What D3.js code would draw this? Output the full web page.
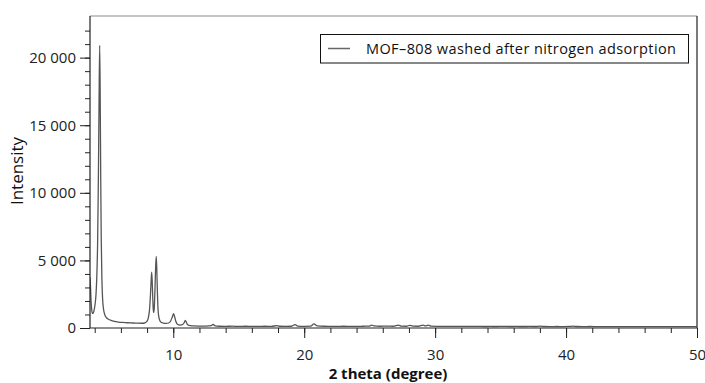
<!DOCTYPE html>
<html>
<head>
<meta charset="utf-8">
<script src="https://cdn.jsdelivr.net/npm/d3@7"></script>
<style>
  body { margin: 0; background: #fff; }
  svg { display: block; }
</style>
</head>
<body>
<svg id="chart" width="705" height="383"></svg>
<script>
// diffractogram (2 theta in degree, intensity in counts)
const twoTheta = [
  3.64, 3.68, 3.72, 3.77, 3.82, 3.88, 3.95, 4.02, 4.10, 4.16, 4.22, 4.28, 4.33, 4.38, 4.42, 4.46,
  4.50, 4.55, 4.60, 4.66, 4.72, 4.80, 4.90, 5.05, 5.25, 5.50, 5.80, 6.10, 6.50, 6.90, 7.30, 7.60,
  7.80, 7.95, 8.08, 8.18, 8.26, 8.31, 8.35, 8.39, 8.43, 8.47, 8.51, 8.55, 8.60, 8.65, 8.70, 8.74,
  8.78, 8.83, 8.90, 8.98, 9.08, 9.25, 9.45, 9.65, 9.80, 9.92, 10.02, 10.10, 10.20, 10.32, 10.50, 10.70,
  10.82, 10.92, 11.00, 11.10, 11.30, 11.60, 12.00, 12.50, 12.90, 13.05, 13.20, 13.50, 14.0, 14.5, 15.0, 15.5,
  16.0, 16.5, 17.0, 17.5, 17.9, 18.1, 18.6, 19.0, 19.3, 19.5, 20.0, 20.5, 20.75, 21.0, 21.5, 22.0,
  22.5, 23.0, 23.5, 24.0, 24.5, 25.0, 25.15, 25.35, 25.8, 26.3, 26.8, 27.2, 27.4, 27.8, 28.07, 28.3,
  28.7, 29.08, 29.25, 29.47, 29.7, 30.2, 30.7, 31.2, 31.7, 32.2, 32.7, 33.2, 33.7, 34.2, 34.7, 35.2,
  35.7, 36.2, 36.7, 37.2, 37.7, 38.0, 38.3, 38.8, 39.3, 39.8, 40.3, 40.5, 40.8, 41.3, 41.8, 42.3,
  42.8, 43.3, 43.8, 44.3, 44.8, 45.3, 45.8, 46.3, 46.8, 47.3, 47.8, 48.3, 48.8, 49.3, 50.0
];
const intensity = [
  3750, 3000, 2000, 1350, 1080, 1100, 1300, 1700, 2500, 3800, 6200, 11000, 16500, 20900, 17000, 11000,
  6500, 3600, 2200, 1500, 1150, 900, 760, 650, 560, 490, 440, 410, 390, 370, 355, 350,
  370, 450, 700, 1300, 2500, 3500, 4140, 3500, 2300, 1400, 1150, 1500, 2800, 4400, 5300, 4400,
  2900, 1500, 800, 540, 420, 360, 340, 370, 520, 800, 1060, 850, 480, 280, 220, 250,
  370, 560, 420, 240, 170, 150, 140, 135, 170, 260, 160, 130, 125, 135, 120, 130,
  125, 120, 130, 125, 170, 130, 120, 130, 250, 140, 125, 135, 300, 150, 130, 125,
  120, 130, 125, 120, 130, 140, 220, 150, 130, 140, 130, 210, 140, 130, 200, 140,
  130, 220, 150, 210, 140, 125, 120, 125, 115, 120, 115, 120, 110, 115, 110, 120,
  110, 115, 110, 115, 110, 140, 110, 105, 110, 105, 115, 140, 110, 105, 110, 105,
  100, 105, 100, 105, 100, 100, 105, 100, 95, 100, 95, 100, 95, 100, 95
];

const seriesName = "MOF\u2013808 washed after nitrogen adsorption";
const xMajorTicks = [10, 20, 30, 40, 50];
const xMinorTicks = d3.range(4, 51, 2);
const yMajorTicks = [0, 5000, 10000, 15000, 20000];
const yMinorTicks = d3.range(0, 23000, 1000);

const margin = { left: 90, right: 8, top: 16, bottom: 55 };
const width = 705, height = 383;
const svg = d3.select("#chart");
const font = "'Open Sans', 'Noto Sans', sans-serif";

//SCALES
const x = d3.scaleLinear().domain([3.64, 50]).range([margin.left, width - margin.right]);
const y = d3.scaleLinear().domain([0, 23080]).range([height - margin.bottom, margin.top]);

const fmtY = v => d3.format(",d")(v).replace(",", " ");

const data = twoTheta.map((t, i) => ({ t: t, v: intensity[i] }));

//FRAME (top + right)
svg.append("line")
    .attr("x1", x.range()[0]).attr("x2", x.range()[1])
    .attr("y1", y.range()[1]).attr("y2", y.range()[1])
    .attr("stroke", "#8c8c8c").attr("stroke-width", 1.2);
svg.append("line")
    .attr("x1", x.range()[1]).attr("x2", x.range()[1])
    .attr("y1", y.range()[1]).attr("y2", y.range()[0])
    .attr("stroke", "#222").attr("stroke-width", 1.2);

//LINE
svg.append("clipPath").attr("id", "plotClip")
  .append("rect")
    .attr("x", x.range()[0]).attr("y", y.range()[1])
    .attr("width", x.range()[1] - x.range()[0])
    .attr("height", y.range()[0] - y.range()[1]);

const line = d3.line()
    .x(d => x(d.t))
    .y(d => y(d.v))
    .curve(d3.curveMonotoneX);

svg.append("path")
    .datum(data)
    .attr("clip-path", "url(#plotClip)")
    .attr("d", line)
    .attr("fill", "none")
    .attr("stroke", "#555")
    .attr("stroke-width", 1.3);

//X AXIS
const xAxis = svg.append("g")
    .attr("transform", "translate(0," + y.range()[0] + ")");
xAxis.call(d3.axisBottom(x).tickValues(xMinorTicks).tickSize(5).tickFormat(""));
xAxis.append("g").call(d3.axisBottom(x).tickValues(xMajorTicks).tickSize(10).tickPadding(11).tickFormat(d3.format("d")));
xAxis.selectAll(".domain").remove();
xAxis.append("line")
    .attr("x1", x.range()[0]).attr("x2", x.range()[1])
    .attr("stroke", "#222").attr("stroke-width", 1.2);
xAxis.selectAll("text")
    .attr("fill", "#222")
    .attr("font-family", font)
    .attr("font-size", 15);
xAxis.selectAll(".tick line").attr("stroke", "#222");

//Y AXIS
const yAxis = svg.append("g")
    .attr("transform", "translate(" + x.range()[0] + ",0)");
yAxis.call(d3.axisLeft(y).tickValues(yMinorTicks).tickSize(5).tickFormat(""));
yAxis.append("g").call(d3.axisLeft(y).tickValues(yMajorTicks).tickSize(10).tickPadding(4).tickFormat(fmtY));
yAxis.selectAll(".domain").remove();
yAxis.append("line")
    .attr("y1", y.range()[0]).attr("y2", y.range()[1])
    .attr("stroke", "#222").attr("stroke-width", 1.2);
yAxis.selectAll("text")
    .attr("fill", "#222")
    .attr("font-family", font)
    .attr("font-size", 15);
yAxis.selectAll(".tick line").attr("stroke", "#222");

//TITLES
svg.append("text")
    .attr("x", 388).attr("y", 379)
    .attr("text-anchor", "middle")
    .attr("font-family", font)
    .attr("font-size", 15)
    .attr("font-weight", "bold")
    .attr("fill", "#111")
    .text("2 theta (degree)");

svg.append("text")
    .attr("transform", "translate(23,171) rotate(-90)")
    .attr("text-anchor", "middle")
    .attr("font-family", font)
    .attr("font-size", 17)
    .attr("fill", "#111")
    .text("Intensity");

//LEGEND
const legend = svg.append("g").attr("transform", "translate(320,34)");
legend.append("rect")
    .attr("x", 0.5).attr("y", 0.5)
    .attr("width", 368).attr("height", 28.5)
    .attr("fill", "#fff")
    .attr("stroke", "#111");
legend.append("line")
    .attr("x1", 8).attr("x2", 30)
    .attr("y1", 14.5).attr("y2", 14.5)
    .attr("stroke", "#666").attr("stroke-width", 1.5);
legend.append("text")
    .attr("x", 46).attr("y", 19.5)
    .attr("font-family", font)
    .attr("font-size", 14.5)
    .attr("textLength", 310)
    .attr("lengthAdjust", "spacing")
    .attr("fill", "#111")
    .text(seriesName);
</script>
</body>
</html>
